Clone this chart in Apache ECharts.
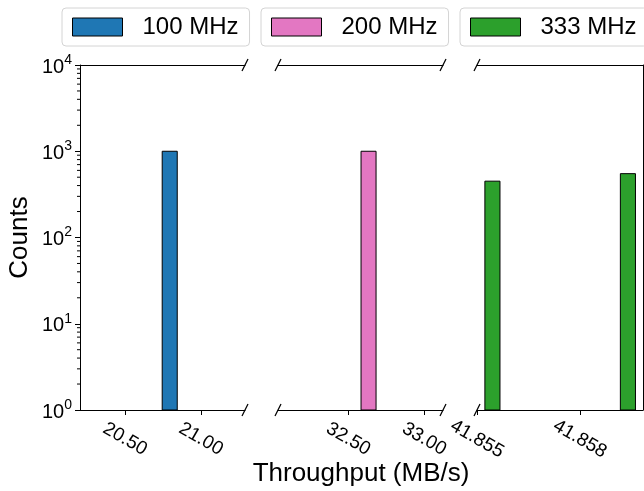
<!DOCTYPE html>
<html><head><meta charset="utf-8">
<script src="https://cdn.jsdelivr.net/npm/echarts@6/dist/echarts.min.js"></script>
<style>html,body{margin:0;padding:0;background:#fff}#c{width:644px;height:491px}</style>
</head><body><div id="c"></div>
<script>
// ---------- data ----------
const seriesNames = ['100 MHz', '200 MHz', '333 MHz'];
// histogram bins: [binStart, binEnd, count]
const bins100 = [[20.745, 20.844, 1000]];
const bins200 = [[32.584, 32.683, 1000]];
const bins333 = [[41.85523, 41.85567, 450], [41.85918, 41.85962, 550]];
const xRanges = [[20.204, 21.290], [32.037, 33.124], [41.855, 41.85984]];
const xTickValues = [[20.5, 21.0], [32.5, 33.0], [41.855, 41.858]];
const xDecimals = [2, 2, 3];
const yMin = 1, yMax = 10000;
const yMinorTicks = [2, 3, 4, 5, 6, 7, 8, 9, 20, 30, 40, 50, 60, 70, 80, 90,
  200, 300, 400, 500, 600, 700, 800, 900, 2000, 3000, 4000, 5000, 6000, 7000, 8000, 9000];
const xTitle = 'Throughput (MB/s)';
const yTitle = 'Counts';

// ---------- layout / style ----------
const FONT = '"Liberation Sans", Arial, sans-serif';
const colors = ['#1f77b4', '#e377c2', '#2ca02c'];
const panels = [{left: 80, width: 165}, {left: 278, width: 165}, {left: 477, width: 166}];
const TOP = 65, PLOT_H = 345;
const BOTTOM_Y = TOP + PLOT_H;
const legendLefts = [62, 261, 460];
const allBins = [bins100, bins200, bins333];

const chart = echarts.init(document.getElementById('c'), null, {renderer: 'canvas'});

const grid = panels.map(p => ({left: p.left, top: TOP, width: p.width, height: PLOT_H, containLabel: false}));

const axisLineStyle = {color: '#000', width: 1};
const xAxis = [];
panels.forEach((p, i) => {
  xAxis.push({
    gridIndex: i, type: 'value', min: xRanges[i][0], max: xRanges[i][1], position: 'bottom',
    axisLine: {show: true, lineStyle: axisLineStyle},
    axisTick: {show: true, customValues: xTickValues[i], length: 5, lineStyle: {color: '#000', width: 1}},
    axisLabel: {
      show: true, customValues: xTickValues[i], rotate: -30, align: 'center', verticalAlign: 'middle',
      margin: 29, fontSize: 19, color: '#000', fontFamily: FONT,
      formatter: v => Number(v).toFixed(xDecimals[i])
    },
    splitLine: {show: false}
  });
});
panels.forEach((p, i) => {
  xAxis.push({
    gridIndex: i, type: 'value', min: xRanges[i][0], max: xRanges[i][1], position: 'top',
    axisLine: {show: true, lineStyle: axisLineStyle},
    axisTick: {show: false}, axisLabel: {show: false}, splitLine: {show: false}
  });
});

const yAxis = [
  {
    gridIndex: 0, type: 'log', logBase: 10, min: yMin, max: yMax, splitNumber: 4,
    axisLine: {show: true, lineStyle: axisLineStyle},
    axisTick: {show: true, length: 5, lineStyle: {color: '#000', width: 1}},
    axisLabel: {
      show: true, margin: 8, color: '#000', fontFamily: FONT,
      formatter: v => '{b|10}{s|' + Math.round(Math.log10(v)) + '}',
      rich: {
        b: {fontSize: 20, fontFamily: FONT, color: '#000', lineHeight: 24, verticalAlign: 'bottom'},
        s: {fontSize: 14, fontFamily: FONT, color: '#000', lineHeight: 14, verticalAlign: 'top'}
      }
    },
    splitLine: {show: false}
  },
  {gridIndex: 1, type: 'log', logBase: 10, min: yMin, max: yMax, show: false},
  {
    gridIndex: 2, type: 'log', logBase: 10, min: yMin, max: yMax, position: 'right',
    axisLine: {show: true, lineStyle: axisLineStyle},
    axisTick: {show: false}, axisLabel: {show: false}, splitLine: {show: false}
  }
];

const series = allBins.map((bins, i) => ({
  name: seriesNames[i], type: 'custom', xAxisIndex: i, yAxisIndex: i,
  itemStyle: {color: colors[i], borderColor: '#000', borderWidth: 1},
  encode: {x: [0, 1], y: 2},
  data: bins,
  renderItem: (params, api) => {
    const p0 = api.coord([api.value(0), api.value(2)]);
    const p1 = api.coord([api.value(1), yMin]);
    return {
      type: 'rect',
      shape: {x: p0[0], y: p0[1], width: p1[0] - p0[0], height: p1[1] - p0[1]},
      style: {fill: colors[i], stroke: '#000', lineWidth: 1}
    };
  }
}));

// minor ticks on the log y axis (matplotlib style)
series.push({
  type: 'custom', xAxisIndex: 0, yAxisIndex: 0, silent: true,
  encode: {x: 0, y: 1},
  data: yMinorTicks.map(v => [xRanges[0][0], v]),
  renderItem: (params, api) => {
    const p = api.coord([api.value(0), api.value(1)]);
    return {type: 'line', shape: {x1: p[0] - 3, y1: p[1], x2: p[0], y2: p[1]},
      style: {stroke: '#000', lineWidth: 1}};
  }
});

const legend = seriesNames.map((n, i) => ({
  data: [n], left: legendLefts[i], top: 8, orient: 'horizontal', icon: 'rect',
  itemWidth: 50, itemHeight: 18, itemGap: 0, padding: [7, 11, 7, 10],
  borderColor: '#d4d4d4', borderWidth: 1, borderRadius: 4, backgroundColor: '#fff',
  selectedMode: false,
  itemStyle: {borderColor: '#000', borderWidth: 1},
  textStyle: {fontSize: 24, color: '#000', fontFamily: FONT, padding: [0, 0, 0, 15]}
}));

// broken-axis diagonal marks
const breakXs = [panels[0].left + panels[0].width, panels[1].left, panels[1].left + panels[1].width, panels[2].left];
const graphic = [];
breakXs.forEach(x => {
  [TOP, BOTTOM_Y].forEach(y => {
    graphic.push({type: 'line', shape: {x1: x - 3, y1: y + 6, x2: x + 3, y2: y - 6},
      style: {stroke: '#000', lineWidth: 1.3}, z: 100});
  });
});
graphic.push({type: 'text', x: 20, y: TOP + PLOT_H / 2, rotation: Math.PI / 2,
  style: {text: yTitle, fontSize: 26, fontFamily: FONT, fill: '#000', align: 'center', verticalAlign: 'middle'}});
graphic.push({type: 'text', x: 361, y: 474,
  style: {text: xTitle, fontSize: 26, fontFamily: FONT, fill: '#000', align: 'center', verticalAlign: 'middle'}});

chart.setOption({
  animation: false,
  backgroundColor: '#fff',
  textStyle: {fontFamily: FONT},
  grid, xAxis, yAxis, series, legend, graphic
});
</script>
</body></html>
